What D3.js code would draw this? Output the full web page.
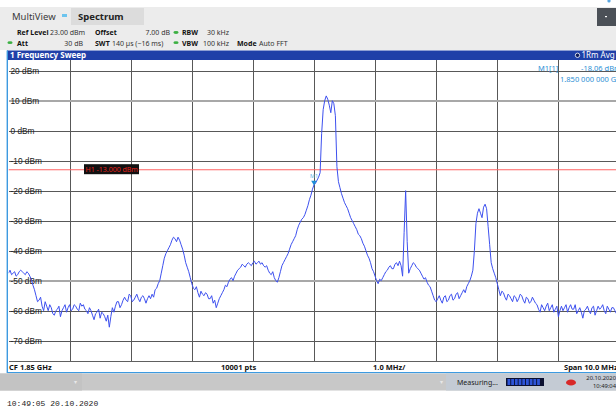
<!DOCTYPE html>
<html lang="en">
<head>
<meta charset="UTF-8">
<title>Spectrum - 1 Frequency Sweep</title>
<script src="https://cdnjs.cloudflare.com/ajax/libs/d3/7.8.5/d3.min.js"></script>
<style>
    body { margin: 0; background: #fff; }
    svg { display: block; font-family: "Noto Sans", "Open Sans", sans-serif; }
    .hdr { font-size: 7px; fill: #333; }
    .hdr.b { font-weight: bold; fill: #111; }
    .grid line { stroke: #585858; stroke-width: 1; shape-rendering: crispEdges; }
    .grid path { display: none; }
    .grid text { font-size: 8.3px; fill: #1a1a1a; }
    .info { font-size: 7.5px; font-weight: bold; fill: #111; }
    .mk { fill: #2d8fd5; font-size: 7.5px; }
</style>
</head>
<body>
<svg width="616" height="410"></svg>
<script>
    // sweep settings (frequency in GHz, level in dBm)
    var centerGHz = 1.85;
    var spanGHz = 0.01;
    var stepGHz = 0.000025;   // one value every 25 kHz
    var refLevel = 23;
    var bottomLevel = -77;

    var yTicks = [20, 10, 0, -10, -20, -30, -40, -50, -60, -70];
    var xGrid = [1.846, 1.847, 1.848, 1.849, 1.850, 1.851, 1.852, 1.853, 1.854];

    // trace, 1.845 GHz .. 1.855 GHz
    var levels = [
        -47.5, -46.5, -48, -47.5, -47, -48.5, -48, -47, -46.5, -47,
        -47.5, -48, -47, -47.5, -48.5, -49.5, -51.5, -53, -55, -57,
        -56.5, -55.5, -58.5, -60, -57, -58.5, -60, -58, -59, -61,
        -61.5, -60, -59.5, -58.5, -62, -60, -59, -58, -60.5, -59,
        -58, -60, -59.5, -58, -58.5, -59.5, -60, -57.5, -58.5, -58,
        -59.5, -60, -61, -59, -60, -61.5, -63, -61, -60.5, -59.5,
        -62.5, -60.5, -61, -62, -63.5, -61.5, -65.5, -62, -59, -60.5,
        -58.5, -57, -57, -59, -58, -56.5, -55.5, -56.5, -57, -54.5,
        -55, -57, -56.5, -55.5, -54.5, -56, -57, -55.5, -55, -56,
        -57.5, -56, -55, -56, -54.5, -55.5, -53, -52.5, -51, -50,
        -47.5, -45, -42.5, -41, -40, -39, -38, -36.5, -35.5, -36,
        -37, -35.5, -36.5, -38, -39.5, -41.5, -44, -45.5, -47, -49,
        -51, -52.5, -53, -52, -54, -55.5, -53.5, -54.5, -55, -54,
        -54.5, -56, -56, -55, -57.5, -56.5, -59, -57.5, -56, -55,
        -54, -53, -51.5, -52, -50.5, -49.5, -49, -50, -48.5, -47.5,
        -46.5, -46, -45.5, -44.5, -45, -45.5, -44.5, -44, -44.5, -45,
        -44, -43.5, -44.5, -44, -43.5, -44.5, -44, -45, -45.5, -45,
        -46.5, -47.5, -48, -47, -49, -50, -50.5, -49, -47, -45,
        -44, -43, -42, -41, -39.5, -38, -37, -36, -35, -33,
        -31.5, -30.5, -29.5, -29, -28, -26.5, -25, -23, -21.5, -19.5,
        -18.06, -17.5, -16.5, -15.5, -14, -1, 7, 10, 11.6, 10.5,
        8.5, 6, 10, 9, 5, -12, -17, -19, -21, -22.5,
        -24, -25, -26, -27.5, -29, -30, -31, -32, -33, -34.5,
        -35, -36, -37.5, -38.5, -40, -41.5, -42.5, -44, -46, -47,
        -48.5, -50, -51, -49.5, -50, -49, -48, -47, -46.5, -45.5,
        -45, -46, -46, -44.5, -44, -45, -43.5, -45, -48.5, -34,
        -20, -37, -47.5, -46, -45, -44, -44.5, -45.5, -46, -46.5,
        -47.5, -48.5, -49.5, -49, -50.5, -51.5, -52, -53.5, -55, -56.5,
        -57, -56, -55, -56.5, -57.5, -55.5, -55, -57, -56.5, -55,
        -54.5, -56.5, -56, -54.5, -54, -56, -55, -54, -53, -54,
        -52, -51, -50, -48.5, -46.5, -40, -31, -27.5, -26, -27.5,
        -29, -25.5, -24.5, -26, -32, -38, -44, -46, -47.5, -49,
        -51, -53, -55, -53.5, -54, -55.5, -56.5, -54.5, -55, -56,
        -57, -55, -55.5, -57, -56, -54.5, -55, -56.5, -57.5, -55.5,
        -56, -57.5, -57, -55.5, -56.5, -57.5, -58, -59.5, -60.5, -58,
        -59, -60, -58.5, -57.5, -60, -59, -58, -60.5, -59.5, -58.5,
        -62, -60, -58.5, -60, -59, -58, -60.5, -59, -58, -59.5,
        -59.5, -58, -61, -60, -59, -60.5, -62.5, -60, -59.5, -58.5,
        -60, -61, -59, -58.5, -61.5, -60, -58.5, -59.5, -59, -58,
        -60, -61, -58.5, -59.5, -60.5, -59, -59, -60, -61, -59,
        -59.5
    ];

    var h1Level = -13;
    var markerName = "M1";
    var markerGHz = 1.85;
    var markerLevel = -18.06;

    var svg = d3.select("svg");

    // ---------- instrument header ----------
    svg.append("rect").attr("x", 0).attr("y", 7).attr("width", 616).attr("height", 43).attr("fill", "#ececec");
    svg.append("rect").attr("x", 71).attr("y", 8).attr("width", 73).attr("height", 17).attr("fill", "#dcdcdc");
    svg.append("text").attr("x", 12).attr("y", 20).style("font-size", "9.5px").attr("fill", "#3a3a3a").text("MultiView");
    svg.append("rect").attr("x", 62).attr("y", 14).attr("width", 5).attr("height", 3).attr("fill", "#6cc4ee");
    svg.append("text").attr("x", 78).attr("y", 20).style("font-size", "9.5px").style("font-weight", "bold").attr("fill", "#222").text("Spectrum");
    svg.append("rect").attr("x", 597).attr("y", 8).attr("width", 19).attr("height", 18).attr("fill", "#4b5057");
    svg.append("rect").attr("x", 605).attr("y", 16).attr("width", 2).attr("height", 1.2).attr("fill", "#fff");
    svg.append("circle").attr("cx", 609).attr("cy", 1).attr("r", 1.6).attr("fill", "#5aa7e2");

    var row1 = [
        {t: "Ref Level", x: 17, b: true}, {t: "23.00 dBm", x: 50},
        {t: "Offset", x: 95, b: true}, {t: "7.00 dB", x: 170, end: true},
        {t: "RBW", x: 182, b: true}, {t: "30 kHz", x: 207}
    ];
    var row2 = [
        {t: "Att", x: 17, b: true}, {t: "30 dB", x: 83, end: true},
        {t: "SWT", x: 95, b: true}, {t: "140 µs (~16 ms)", x: 112},
        {t: "VBW", x: 182, b: true}, {t: "100 kHz", x: 203},
        {t: "Mode", x: 237, b: true}, {t: "Auto FFT", x: 259}
    ];
    function hdrRow(items, yy) {
        svg.selectAll(null).data(items).enter().append("text")
            .attr("class", function (d) { return d.b ? "hdr b" : "hdr"; })
            .attr("x", function (d) { return d.x; })
            .attr("y", yy)
            .attr("text-anchor", function (d) { return d.end ? "end" : "start"; })
            .text(function (d) { return d.t; });
    }
    hdrRow(row1, 35);
    hdrRow(row2, 45.5);
    [[176, 32.5], [10, 42.7], [176, 42.7]].forEach(function (p) {
        svg.append("ellipse").attr("cx", p[0]).attr("cy", p[1]).attr("rx", 2.6).attr("ry", 1.4).attr("fill", "#3cb043");
    });

    // ---------- window title bar ----------
    svg.append("rect").attr("x", 7).attr("y", 50.5).attr("width", 609).attr("height", 9.5).attr("fill", "#1f40a8");
    svg.append("text").attr("x", 10).attr("y", 58.3).style("font-size", "8px").style("font-weight", "bold")
        .attr("fill", "#fff").text("1 Frequency Sweep");
    svg.append("circle").attr("cx", 577.5).attr("cy", 55.3).attr("r", 2.2).attr("fill", "#0e1c5c")
        .attr("stroke", "#fff").attr("stroke-width", 0.8);
    svg.append("text").attr("x", 581.5).attr("y", 58.3).style("font-size", "8px").attr("fill", "#fff").text("1Rm Avg");

    // ---------- plot ----------
    var pLeft = 8.5, pRight = 619.5, pTop = 61.7, pBottom = 361.7;
    var x = d3.scaleLinear().domain([centerGHz - spanGHz / 2, centerGHz + spanGHz / 2]).range([pLeft, pRight]);
    var y = d3.scaleLinear().domain([bottomLevel, refLevel]).range([pBottom, pTop]);

    svg.append("defs").append("clipPath").attr("id", "clip")
        .append("rect").attr("x", pLeft).attr("y", pTop - 1).attr("width", pRight - pLeft).attr("height", pBottom - pTop + 1);

    svg.append("g").attr("class", "grid")
        .attr("transform", "translate(0," + pBottom + ")")
        .call(d3.axisBottom(x).tickValues(xGrid).tickSize(-(pBottom - pTop + 1.7)).tickFormat(""));

    var yAxis = svg.append("g").attr("class", "grid")
        .attr("transform", "translate(" + pLeft + ",0)")
        .call(d3.axisLeft(y).tickValues(yTicks).tickSize(-(pRight - pLeft)).tickFormat(function (d) { return d + " dBm"; }));
    yAxis.selectAll("text").attr("x", 2).attr("dy", "0.35em").style("text-anchor", "start");
    yAxis.selectAll(".tick line").filter(function (d) { return d === 10 || d === -50; })
        .style("stroke", "#a8a8a8").style("stroke-width", 2);

    // plot frame
    svg.append("line").attr("x1", pLeft).attr("x2", 616).attr("y1", pBottom).attr("y2", pBottom)
        .attr("stroke", "#606060").style("shape-rendering", "crispEdges");

    // H1 display line
    var g = svg.append("g").attr("clip-path", "url(#clip)");
    g.append("line").attr("x1", pLeft).attr("x2", pRight).attr("y1", y(h1Level)).attr("y2", y(h1Level))
        .attr("stroke", "#ff6464").attr("stroke-width", 1.1);
    svg.append("rect").attr("x", 84).attr("y", y(h1Level) - 5.5).attr("width", 55).attr("height", 10).attr("fill", "#111");
    svg.append("text").attr("x", 85.5).attr("y", y(h1Level) + 2.5).style("font-size", "7px").attr("fill", "#e8201a")
        .text("H1 -13.000 dBm");

    // trace
    var line = d3.line()
        .x(function (d, i) { return x(centerGHz - spanGHz / 2 + i * stepGHz); })
        .y(function (d) { return y(d); });
    g.append("path").datum(levels).attr("d", line)
        .attr("fill", "none").attr("stroke", "#3d50ee").attr("stroke-width", 1).attr("stroke-linejoin", "round");

    // marker M1
    var mx = x(markerGHz), my = y(markerLevel);
    svg.append("path").attr("d", d3.symbol().type(d3.symbolTriangle).size(14))
        .attr("transform", "translate(" + mx + "," + (my - 2.6) + ") rotate(180)")
        .attr("fill", "#1f8ed6");
    svg.append("text").attr("x", mx).attr("y", my - 6.5).attr("text-anchor", "middle")
        .style("font-size", "5.5px").attr("fill", "#5ab4e8").text(markerName);

    svg.append("text").attr("class", "mk").attr("x", 538).attr("y", 70.5).text(markerName + "[1]");
    svg.append("text").attr("class", "mk").attr("x", 581).attr("y", 70.5).text(markerLevel.toFixed(2) + " dBm");
    svg.append("text").attr("class", "mk").attr("x", 560).attr("y", 81.5).text("1.850 000 000 GHz");

    // window border (light blue)
    svg.append("line").attr("x1", 7.3).attr("x2", 7.3).attr("y1", 50.5).attr("y2", 373).attr("stroke", "#3d9ae0").attr("stroke-width", 1.4);
    svg.append("line").attr("x1", 7).attr("x2", 616).attr("y1", 372.6).attr("y2", 372.6).attr("stroke", "#3d9ae0").attr("stroke-width", 1.2);

    // footer info row
    var footer = [
        {t: "CF 1.85 GHz", x: 9}, {t: "10001 pts", x: 221},
        {t: "1.0 MHz/", x: 373}, {t: "Span 10.0 MHz", x: 564}
    ];
    svg.selectAll(null).data(footer).enter().append("text").attr("class", "info")
        .attr("x", function (d) { return d.x; }).attr("y", 369.6).text(function (d) { return d.t; });

    // status bar
    svg.append("rect").attr("x", 0).attr("y", 373.5).attr("width", 616).attr("height", 17).attr("fill", "#c8c8c8");
    svg.append("rect").attr("x", 0).attr("y", 373.5).attr("width", 82).attr("height", 17).attr("fill", "#c3c3c3");
    svg.append("rect").attr("x", 446).attr("y", 373.5).attr("width", 170).attr("height", 17).attr("fill", "#c4cbd4");
    svg.append("text").attr("x", 457).attr("y", 385).style("font-size", "7px").attr("fill", "#222").text("Measuring...");
    svg.append("rect").attr("x", 506).attr("y", 378).attr("width", 38).attr("height", 8).attr("fill", "#0b1030");
    d3.range(9).forEach(function (k) {
        svg.append("rect").attr("x", 507.5 + k * 3.7).attr("y", 379).attr("width", 2.8).attr("height", 6).attr("fill", "#2e55d8");
    });
    svg.append("ellipse").attr("cx", 571).attr("cy", 382.5).attr("rx", 5).attr("ry", 3).attr("fill", "#d82828");
    svg.append("text").attr("x", 616).attr("y", 380).attr("text-anchor", "end").style("font-size", "5.8px").attr("fill", "#222").text("20.10.2020");
    svg.append("text").attr("x", 616).attr("y", 388).attr("text-anchor", "end").style("font-size", "5.8px").attr("fill", "#222").text("10:49:04");
    svg.append("text").attr("x", 74).attr("y", 384).style("font-size", "6px").attr("fill", "#e8e8e8").text("▾");
    svg.append("text").attr("x", 440).attr("y", 384).style("font-size", "6px").attr("fill", "#e8e8e8").text("▾");

    // screenshot timestamp
    svg.append("text").attr("x", 7).attr("y", 405.5).style("font-family", "'Liberation Mono', 'DejaVu Sans Mono', monospace")
        .style("font-size", "8px").attr("fill", "#222").text("10:49:05  20.10.2020");
</script>
</body>
</html>
